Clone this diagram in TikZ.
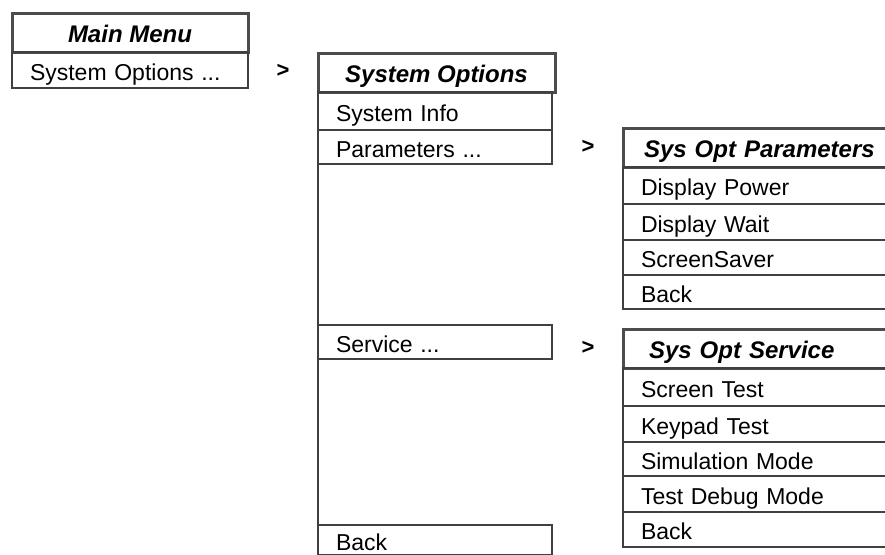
\documentclass[tikz,border=0pt]{standalone}
\usepackage{fontspec}
\setmainfont{Liberation Sans}
\usepackage{tikz}
\usetikzlibrary{positioning}

\tikzset{
  menutitle/.style={draw=black!70, line width=3pt, anchor=north west, inner sep=0pt,
    outer sep=0pt, minimum height=39pt, text height=21pt, text depth=1pt,
    font=\fontsize{24}{28}\selectfont\bfseries\itshape},
  menurow/.style={draw=black!75, line width=1.4pt, anchor=north west, inner xsep=18pt,
    inner ysep=0pt, outer sep=0pt, minimum height=36pt, text height=21pt, text depth=1pt,
    align=left, font=\fontsize{23}{27}\selectfont},
  mainrow/.style={menurow, text width=200pt},
  optrow/.style={menurow, text width=198pt},
  subrow/.style={menurow, text width=256pt},
  subtitle/.style={menutitle, text width=292pt, align=left},
  goesto/.style={font=\fontsize{22}{26}\selectfont\bfseries}
}

\begin{document}
\begin{tikzpicture}[x=1pt,y=-1pt]
  \useasboundingbox (0,0) rectangle (885,554);
  \clip (0,0) rectangle (885,554);
  \fill[white] (0,0) rectangle (885,554);

  % main menu
  \node[menutitle, minimum width=236pt] (mainttl) at (12,13) {Main Menu};
  \node[mainrow] (mainopt) at (mainttl.south west) {System Options ...};
  \node[goesto] (arrmain) at (283,71) {>};

  % system options
  \node[menutitle, minimum width=237pt] (optttl) at (318,53) {System Options};
  \node[optrow, minimum height=38pt] (optinfo) at (optttl.south west) {System Info};
  \node[optrow, minimum height=34pt] (optpar) at (optinfo.south west) {Parameters ...};
  \node[optrow, minimum height=34pt] (optsvc) at (318,325) {Service ...};
  \node[optrow, minimum height=30pt] (optback) at (318,525) {Back};
  \draw[black!75, line width=1.4pt] (optpar.south west) -- (optback.north west);
  \node[goesto] (arrpar) at (588,147) {>};
  \node[goesto] (arrsvc) at (588,348) {>};

  % sys opt parameters (right edge runs off the page)
  \node[subtitle] (parttl) at (623,128) {\hspace*{21pt}Sys Opt Parameters};
  \node[subrow, minimum height=37pt] (par1) at (parttl.south west) {Display Power};
  \node[subrow] (par2) at (par1.south west) {Display Wait};
  \node[subrow, minimum height=35pt] (par3) at (par2.south west) {ScreenSaver};
  \node[subrow, minimum height=34pt] (par4) at (par3.south west) {Back};

  % sys opt service
  \node[subtitle] (svcttl) at (623,329) {\hspace*{26pt}Sys Opt Service};
  \node[subrow, minimum height=38pt] (svc1) at (svcttl.south west) {Screen Test};
  \node[subrow] (svc2) at (svc1.south west) {Keypad Test};
  \node[subrow, minimum height=34pt] (svc3) at (svc2.south west) {Simulation Mode};
  \node[subrow] (svc4) at (svc3.south west) {Test Debug Mode};
  \node[subrow, minimum height=35pt] (svc5) at (svc4.south west) {Back};
\end{tikzpicture}
\end{document}
